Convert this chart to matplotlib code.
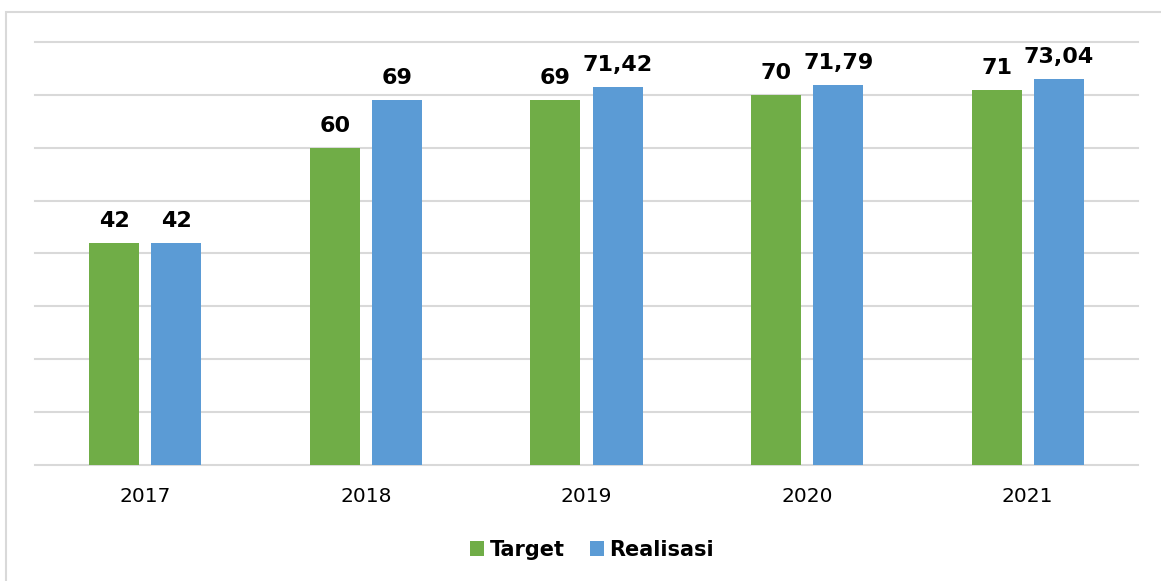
import matplotlib.pyplot as plt
import matplotlib.patches as patches
import numpy as np

# Target vs Realisasi per year
years = ['2017', '2018', '2019', '2020', '2021']
target = [42, 60, 69, 70, 71]
realisasi = [42, 69, 71.42, 71.79, 73.04]
target_labels = ['42', '60', '69', '70', '71']
realisasi_labels = ['42', '69', '71,42', '71,79', '73,04']

green = '#70AD47'
blue = '#5B9BD5'
grid_col = '#D9D9D9'

plt.rcParams['font.family'] = ['DejaVu Sans']

fig = plt.figure(figsize=(11.61, 5.81), dpi=100)
W, H = 1161, 581
ax = fig.add_axes([35 / W, (H - 465) / H, (1138 - 35) / W, (465 - 42) / H])

x = np.arange(len(years))
width = 0.227
offset = 0.141
b1 = ax.bar(x - offset, target, width, color=green, label='Target', zorder=3)
b2 = ax.bar(x + offset, realisasi, width, color=blue, label='Realisasi', zorder=3)

# value labels above each bar
for bars, labels in ((b1, target_labels), (b2, realisasi_labels)):
    for rect, lab in zip(bars, labels):
        ax.annotate(lab, (rect.get_x() + rect.get_width() / 2, rect.get_height()),
                    xytext=(0, 11.5), textcoords='offset points',
                    ha='center', va='baseline', fontsize=16, fontweight='bold',
                    color='black', zorder=4)

ax.set_xlim(-0.5, len(years) - 0.5)
ax.set_ylim(0, 80)
ax.set_yticks(np.arange(0, 81, 10))
ax.set_yticklabels([])
ax.set_xticks(x)
ax.set_xticklabels(years, fontsize=14.5)
ax.tick_params(axis='both', length=0)
ax.tick_params(axis='x', pad=16)
ax.grid(axis='y', color=grid_col, linewidth=1.5, zorder=0)
for gl in ax.get_ygridlines():
    gl.set_clip_on(False)
for s in ax.spines.values():
    s.set_visible(False)

leg = ax.legend(loc='center', ncol=2, frameon=False,
                prop={'weight': 'bold', 'size': 15}, handlelength=0.7, handleheight=0.7,
                handletextpad=0.25, columnspacing=1.2)
leg.set_bbox_to_anchor((0.505, (465 - 550) / (465 - 42)), transform=ax.transAxes)

# outer chart border
fig.patches.append(patches.Rectangle((5.5 / W, -0.1), 1.2, (H - 12.5) / H + 0.1,
                                     transform=fig.transFigure, fill=False,
                                     edgecolor=grid_col, linewidth=1.5))

fig.savefig('out.png', dpi=100, facecolor='white')
